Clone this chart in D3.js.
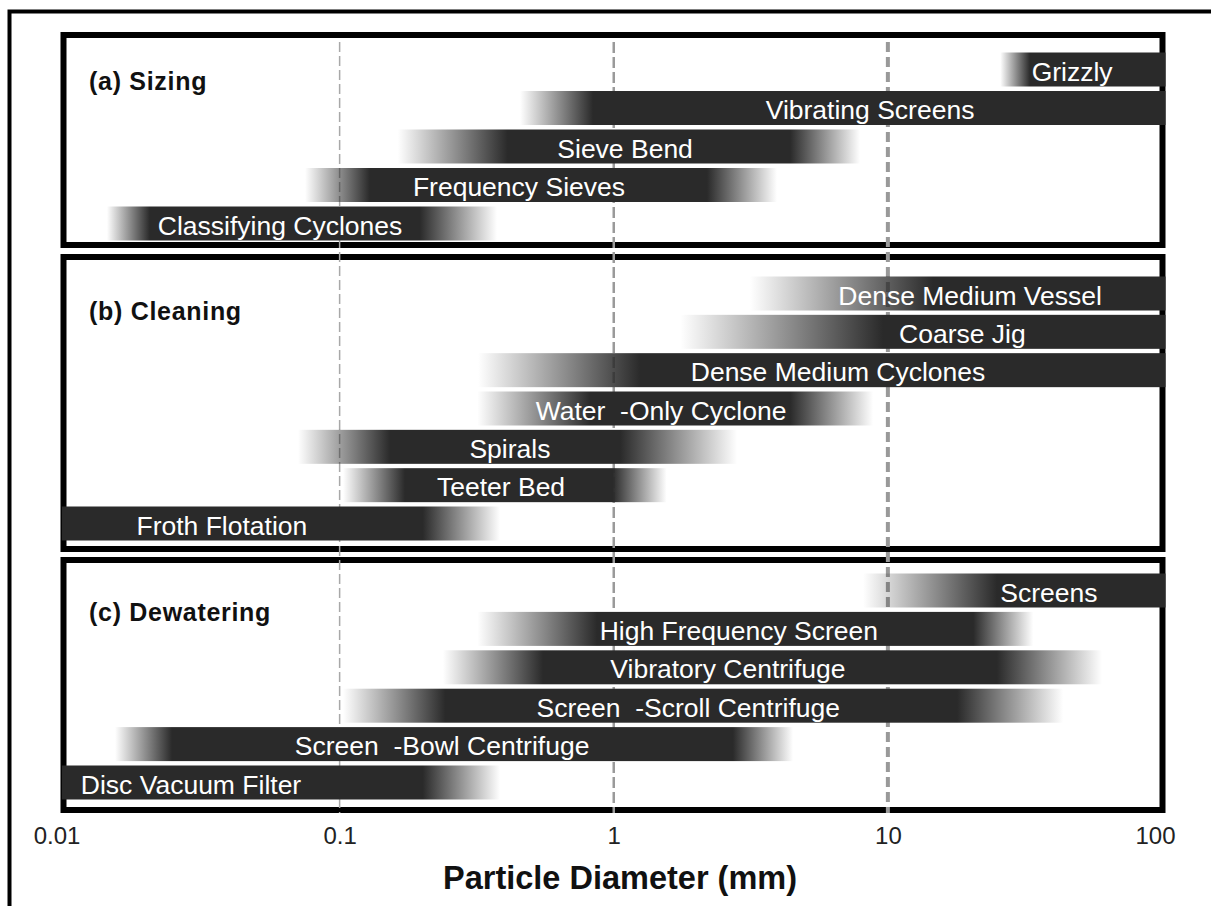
<!DOCTYPE html>
<html>
<head>
<meta charset="utf-8">
<script src="https://cdnjs.cloudflare.com/ajax/libs/d3/7.8.5/d3.min.js"></script>
<style>
  html, body { margin: 0; padding: 0; background: #fff; }
  svg { display: block; }
  text { font-family: "Liberation Sans", Arial, Helvetica, sans-serif; white-space: pre; }
</style>
</head>
<body>
<svg id="chart" width="1211" height="906"></svg>
<script>
// ---------- DATA (particle diameter, mm) ----------
const tickValues = [0.01, 0.1, 1, 10, 100];
const tickLabels = ["0.01", "0.1", "1", "10", "100"];
const gridValues = [0.1, 1, 10];
const axisTitle = "Particle Diameter (mm)";

const panelTitles = ["(a) Sizing", "(b) Cleaning", "(c) Dewatering"];

// (a) Sizing
const sizingNames     = ["Grizzly", "Vibrating Screens", "Sieve Bend", "Frequency Sieves", "Classifying Cyclones"];
const sizingFadeIn    = [25.7, 0.455, 0.163, 0.0748, 0.01416];
const sizingSolidFrom = [33, 0.84, 0.41, 0.129, 0.0203];
const sizingSolidTo   = [103, 103, 4.4, 2.19, 0.196];
const sizingFadeOut   = [103, 103, 7.92, 3.94, 0.375];
const sizingLabelAt   = [47.0, 8.61, 1.10, 0.451, 0.0606];

// (b) Cleaning
const cleaningNames     = ["Dense Medium Vessel", "Coarse Jig", "Dense Medium Cyclones", "Water  -Only Cyclone", "Spirals", "Teeter Bed", "Froth Flotation"];
const cleaningFadeIn    = [3.14, 1.75, 0.32, 0.318, 0.0705, 0.1029, 0.0097];
const cleaningSolidFrom = [14.6, 9.6, 1.25, 0.82, 0.153, 0.173, 0.0097];
const cleaningSolidTo   = [103, 103, 103, 4.40, 1.055, 0.99, 0.201];
const cleaningFadeOut   = [103, 103, 103, 8.83, 2.82, 1.56, 0.385];
const cleaningLabelAt   = [19.95, 18.7, 6.58, 1.488, 0.418, 0.388, 0.0372];

// (c) Dewatering
const dewateringNames     = ["Screens", "High Frequency Screen", "Vibratory Centrifuge", "Screen  -Scroll Centrifuge", "Screen  -Bowl Centrifuge", "Disc Vacuum Filter"];
const dewateringFadeIn    = [8.12, 0.318, 0.238, 0.1029, 0.01516, 0.0097];
const dewateringSolidFrom = [25.0, 0.869, 0.552, 0.243, 0.02446, 0.0097];
const dewateringSolidTo   = [103, 20.5, 25.0, 17.9, 2.72, 0.201];
const dewateringFadeOut   = [103, 33.9, 60.4, 43.6, 4.51, 0.385];
const dewateringLabelAt   = [38.7, 2.86, 2.61, 1.87, 0.2365, 0.0287];

// ---------- LAYOUT ----------
const svg = d3.select("#chart");
const x = d3.scaleLog().domain([0.01, 100]).range([65.5, 1162]);
const barColor = "#2a2a2a";
const barH = 34;

function rows(names, fi, sf, st, fo, la) {
  return names.map((n, i) => ({ name: n, fadeIn: fi[i], solidFrom: sf[i], solidTo: st[i], fadeOut: fo[i], labelAt: la[i] }));
}

const panels = [
  { title: panelTitles[0], data: rows(sizingNames, sizingFadeIn, sizingSolidFrom, sizingSolidTo, sizingFadeOut, sizingLabelAt),
    top: 35, bottom: 245, firstRow: 69.5, lastRow: 223.5, titleY: 90 },
  { title: panelTitles[1], data: rows(cleaningNames, cleaningFadeIn, cleaningSolidFrom, cleaningSolidTo, cleaningFadeOut, cleaningLabelAt),
    top: 257, bottom: 549, firstRow: 293.5, lastRow: 523.5, titleY: 320 },
  { title: panelTitles[2], data: rows(dewateringNames, dewateringFadeIn, dewateringSolidFrom, dewateringSolidTo, dewateringFadeOut, dewateringLabelAt),
    top: 560, bottom: 810, firstRow: 590.5, lastRow: 782.5, titleY: 621 }
];

// outer frame (extends beyond the view on right and bottom)
svg.append("rect")
  .attr("x", 9.5).attr("y", 11.5).attr("width", 1400).attr("height", 1100)
  .attr("fill", "none").attr("stroke", "#000").attr("stroke-width", 4);

// panel frames
const x0 = x.range()[0], x1 = x.range()[1];
panels.forEach(p => {
  svg.append("rect")
    .attr("x", x0 - 2).attr("y", p.top)
    .attr("width", (x1 + 0.5) - (x0 - 2)).attr("height", p.bottom - p.top)
    .attr("fill", "#fff").attr("stroke", "#000").attr("stroke-width", 6);
});

// dashed decade lines
const gridStyle = [
  { w: 1.5, c: "#a8a8a8", dash: "10,4" },
  { w: 2.5, c: "#9a9a9a", dash: "11,4" },
  { w: 4, c: "#999999", dash: "10,5" }
];
svg.append("g").selectAll("line").data(gridValues).join("line")
  .attr("x1", d => x(d)).attr("x2", d => x(d))
  .attr("y1", 42).attr("y2", 813)
  .attr("stroke", (d, i) => gridStyle[i].c)
  .attr("stroke-width", (d, i) => gridStyle[i].w)
  .attr("stroke-dasharray", (d, i) => gridStyle[i].dash);

const defs = svg.append("defs");
let gid = 0;

panels.forEach(p => {
  const y = d3.scalePoint().domain(p.data.map(d => d.name)).range([p.firstRow, p.lastRow]);
  const g = svg.append("g");

  p.data.forEach(d => {
    const a = x(d.fadeIn), b = x(d.fadeOut);
    const span = b - a;
    const id = "grad" + (gid++);
    const grad = defs.append("linearGradient").attr("id", id)
      .attr("gradientUnits", "userSpaceOnUse")
      .attr("x1", a).attr("x2", b).attr("y1", 0).attr("y2", 0);
    const sA = (x(d.solidFrom) - a) / span;
    const sB = (x(d.solidTo) - a) / span;
    grad.append("stop").attr("offset", 0).attr("stop-color", barColor).attr("stop-opacity", sA > 0 ? 0 : 1);
    grad.append("stop").attr("offset", sA).attr("stop-color", barColor).attr("stop-opacity", 1);
    grad.append("stop").attr("offset", sB).attr("stop-color", barColor).attr("stop-opacity", 1);
    grad.append("stop").attr("offset", 1).attr("stop-color", barColor).attr("stop-opacity", sB < 1 ? 0 : 1);

    g.append("rect")
      .attr("x", a).attr("y", y(d.name) - barH / 2)
      .attr("width", span).attr("height", barH)
      .attr("fill", `url(#${id})`);
  });

  g.selectAll("text.lbl").data(p.data).join("text")
    .attr("class", "lbl")
    .attr("x", d => x(d.labelAt))
    .attr("y", d => y(d.name) + 11)
    .attr("text-anchor", "middle")
    .attr("fill", "#fff")
    .attr("font-size", 26.5)
    .text(d => d.name);

  svg.append("text")
    .attr("x", 89).attr("y", p.titleY)
    .attr("font-size", 25).attr("font-weight", "bold")
    .attr("letter-spacing", 0.7)
    .attr("fill", "#111")
    .text(p.title);
});

// x axis
const axis = d3.axisBottom(x)
  .tickValues(tickValues)
  .tickFormat((d, i) => tickLabels[i])
  .tickSize(0).tickPadding(14);
const ax = svg.append("g").attr("transform", "translate(0,813)").call(axis);
ax.select(".domain").remove();
const lastTick = tickValues.length - 1;
ax.selectAll("text")
  .attr("font-size", 24)
  .attr("fill", "#222")
  .attr("dx", (d, i) => (i === 0 ? -9 : i === lastTick ? -7 : 0))
  .style("font-family", "'Liberation Sans', Arial, sans-serif");

svg.append("text")
  .attr("x", 620).attr("y", 889)
  .attr("text-anchor", "middle")
  .attr("font-size", 32.5).attr("font-weight", "bold")
  .attr("fill", "#111")
  .text(axisTitle);
</script>
</body>
</html>
